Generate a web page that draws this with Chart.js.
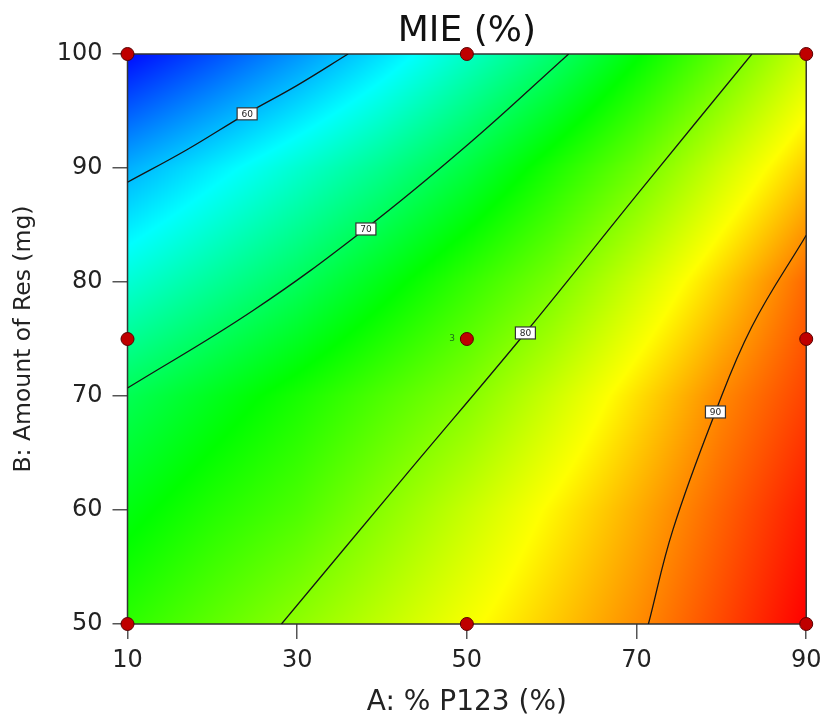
<!DOCTYPE html>
<html>
<head>
<meta charset="utf-8">
<title>MIE (%)</title>
<script src="https://cdn.jsdelivr.net/npm/chart.js@4.4.0/dist/chart.umd.min.js"></script>
<style>
  html, body { margin: 0; padding: 0; background: #fff; }
  #wrap { width: 829px; height: 717px; position: relative; }
</style>
</head>
<body>
<div id="wrap"><canvas id="mieChart"></canvas></div>
<script>
// factor levels of the response grid
const levelsA = [10, 20, 30, 40, 50, 60, 70, 80, 90];
const levelsB = [50, 60, 70, 80, 90, 100];

// predicted MIE (%) at each A level, one row per B level
const mieB50  = [76.0, 78.2, 80.4, 82.7, 85.1, 87.4, 89.7, 92.3, 95.0];
const mieB60  = [73.3, 75.5, 77.4, 80.2, 83.0, 85.8, 88.5, 91.3, 94.0];
const mieB70  = [70.4, 72.7, 75.0, 77.5, 79.9, 83.2, 86.6, 89.9, 92.5];
const mieB80  = [64.8, 67.4, 70.0, 73.1, 76.3, 79.4, 83.3, 87.2, 91.1];
const mieB90  = [59.1, 62.1, 65.0, 67.9, 71.2, 75.1, 78.9, 83.3, 87.4];
const mieB100 = [51.0, 54.3, 57.8, 61.5, 65.4, 69.2, 73.7, 78.3, 83.2];
const mieRows = [mieB50, mieB60, mieB70, mieB80, mieB90, mieB100];

const ticksA = [10, 30, 50, 70, 90];
const ticksB = [50, 60, 70, 80, 90, 100];

// contour lines (A, B)
const contourLevels = [60, 70, 80, 90];
const contour60 = [[10, 88.75], [17.0, 91.6], [24.0, 94.75], [30.0, 97.25], [36.0, 100]];
const contour70 = [[10, 70.7], [24.8, 77.5], [38.1, 84.7], [50.2, 92.1], [62.0, 100]];
const contour80 = [[28.15, 50], [42.5, 62.8], [56.9, 75.55], [70.2, 87.8], [83.6, 100]];
const contour90 = [[71.4, 50], [74.3, 58.3], [79.3, 68.6], [83.6, 76.1], [90, 84.1]];
const contourLines = [contour60, contour70, contour80, contour90];
const contourLabelAt = [[24.1, 94.75], [38.1, 84.65], [56.9, 75.53], [79.3, 68.6]];

// design points
const designA = [10, 50, 90, 10, 50, 90, 10, 50, 90];
const designB = [50, 50, 50, 75, 75, 75, 100, 100, 100];
const centreRuns = 3;

// blue -> cyan -> green -> yellow -> red
const colourStops = [
  [50.5, [0, 0, 255]],
  [63, [0, 255, 255]],
  [74, [0, 255, 0]],
  [85.5, [255, 255, 0]],
  [95, [255, 0, 0]]
];

const FONT = "'DejaVu Sans', sans-serif";

function cellIndex(levels, v) {
  let i = 0;
  while (i < levels.length - 2 && v > levels[i + 1]) i++;
  return i;
}

function mieAt(a, b) {
  const i = cellIndex(levelsA, a);
  const j = cellIndex(levelsB, b);
  const ta = Math.min(Math.max((a - levelsA[i]) / (levelsA[i + 1] - levelsA[i]), 0), 1);
  const tb = Math.min(Math.max((b - levelsB[j]) / (levelsB[j + 1] - levelsB[j]), 0), 1);
  const lo = mieRows[j][i] * (1 - ta) + mieRows[j][i + 1] * ta;
  const hi = mieRows[j + 1][i] * (1 - ta) + mieRows[j + 1][i + 1] * ta;
  return lo * (1 - tb) + hi * tb;
}

function colourFor(v) {
  if (v <= colourStops[0][0]) return colourStops[0][1];
  for (let k = 1; k < colourStops.length; k++) {
    if (v <= colourStops[k][0]) {
      const [v0, c0] = colourStops[k - 1];
      const [v1, c1] = colourStops[k];
      const t = (v - v0) / (v1 - v0);
      return [0, 1, 2].map(n => Math.round(c0[n] + (c1[n] - c0[n]) * t));
    }
  }
  return colourStops[colourStops.length - 1][1];
}

// filled response surface under everything else
const surfacePlugin = {
  id: 'surface',
  beforeDatasetsDraw(chart) {
    const { ctx, chartArea: area, scales } = chart;
    const w = Math.ceil(area.width), h = Math.ceil(area.height);
    const off = document.createElement('canvas');
    off.width = w;
    off.height = h;
    const octx = off.getContext('2d');
    const img = octx.createImageData(w, h);
    for (let j = 0; j < h; j++) {
      const b = scales.y.getValueForPixel(area.top + j + 0.5);
      for (let i = 0; i < w; i++) {
        const a = scales.x.getValueForPixel(area.left + i + 0.5);
        const c = colourFor(mieAt(a, b));
        const k = (j * w + i) * 4;
        img.data[k] = c[0];
        img.data[k + 1] = c[1];
        img.data[k + 2] = c[2];
        img.data[k + 3] = 255;
      }
    }
    octx.putImageData(img, 0, 0);
    ctx.save();
    ctx.drawImage(off, area.left, area.top, area.width, area.height);
    ctx.strokeStyle = '#333';
    ctx.lineWidth = 1.5;
    ctx.strokeRect(area.left, area.top, area.width, area.height);
    ctx.restore();
  },
  afterDatasetsDraw(chart) {
    const { ctx, scales } = chart;
    ctx.save();
    ctx.font = '9px ' + FONT;
    ctx.textAlign = 'center';
    ctx.textBaseline = 'middle';
    contourLevels.forEach((lvl, n) => {
      const px = scales.x.getPixelForValue(contourLabelAt[n][0]);
      const py = scales.y.getPixelForValue(contourLabelAt[n][1]);
      ctx.fillStyle = '#fff';
      ctx.fillRect(px - 10, py - 6, 20, 12);
      ctx.strokeStyle = '#333';
      ctx.lineWidth = 1.2;
      ctx.strokeRect(px - 10, py - 6, 20, 12);
      ctx.fillStyle = '#222';
      ctx.fillText(String(lvl), px, py + 0.5);
    });
    // replicate count next to the centre point
    const cx = scales.x.getPixelForValue(designA[4]);
    const cy = scales.y.getPixelForValue(designB[4]);
    ctx.fillStyle = '#1a6e1a';
    ctx.textAlign = 'right';
    ctx.fillText(String(centreRuns), cx - 12, cy);
    ctx.restore();
  }
};

const datasets = contourLines.map((line, n) => ({
  label: 'MIE ' + contourLevels[n],
  type: 'line',
  data: line.map(p => ({ x: p[0], y: p[1] })),
  borderColor: '#151515',
  borderWidth: 1.3,
  pointRadius: 0,
  tension: 0.4,
  fill: false,
  order: 2
}));

datasets.push({
  label: 'Design points',
  type: 'scatter',
  data: designA.map((a, n) => ({ x: a, y: designB[n] })),
  backgroundColor: '#bf0000',
  borderColor: '#5a0000',
  borderWidth: 1,
  pointRadius: 6.5,
  pointHoverRadius: 6.5,
  clip: false,
  order: 0
});

new Chart(document.getElementById('mieChart'), {
  type: 'scatter',
  data: { datasets },
  plugins: [surfacePlugin],
  options: {
    responsive: true,
    maintainAspectRatio: false,
    animation: false,
    events: [],
    layout: { padding: { left: 0, right: 21, top: 0, bottom: 0 } },
    plugins: {
      legend: { display: false },
      tooltip: { enabled: false },
      title: {
        display: true,
        fullSize: false,
        text: 'MIE (%)',
        color: '#111',
        font: { family: FONT, size: 36, weight: 'normal' },
        padding: { top: 10, bottom: 0.8 }
      }
    },
    scales: {
      x: {
        type: 'linear',
        min: 10,
        max: 90,
        afterBuildTicks: s => { s.ticks = ticksA.map(v => ({ value: v })); },
        afterFit: s => { s.height = 93; },
        grid: { drawOnChartArea: false, drawTicks: true, tickLength: 15, color: '#555', lineWidth: 1.5 },
        border: { display: false },
        ticks: { color: '#222', padding: 7.5, font: { family: FONT, size: 24 } },
        title: {
          display: true,
          text: 'A: % P123 (%)',
          color: '#222',
          font: { family: FONT, size: 28, lineHeight: 1 },
          padding: { top: 0, bottom: 0 }
        }
      },
      y: {
        type: 'linear',
        min: 50,
        max: 100,
        afterBuildTicks: s => { s.ticks = ticksB.map(v => ({ value: v })); },
        afterFit: s => { s.width = 127.5; },
        grid: { drawOnChartArea: false, drawTicks: true, tickLength: 15, color: '#555', lineWidth: 1.5 },
        border: { display: false },
        ticks: { color: '#222', padding: 10, font: { family: FONT, size: 24 } },
        title: {
          display: true,
          text: 'B: Amount of Res (mg)',
          color: '#222',
          font: { family: FONT, size: 23.5, lineHeight: 1 },
          padding: { top: 12.25, bottom: 0 }
        }
      }
    }
  }
});
</script>
</body>
</html>
